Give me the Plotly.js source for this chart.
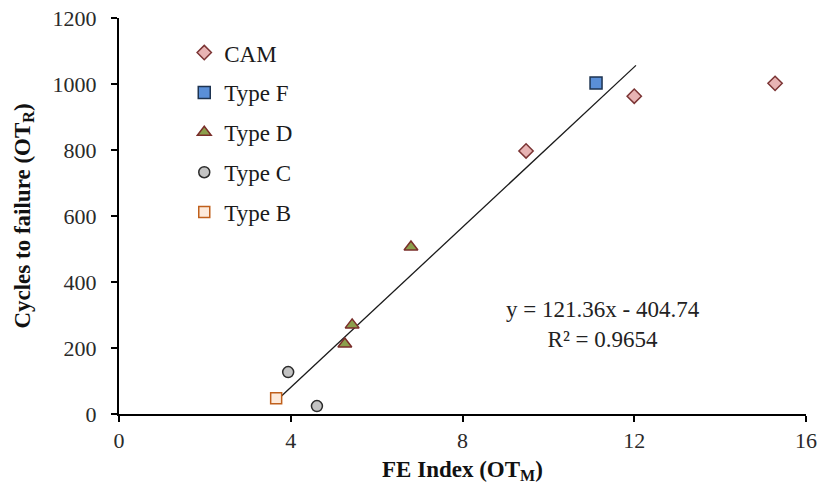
<!DOCTYPE html>
<html>
<head>
<meta charset="utf-8">
<script src="https://cdn.plot.ly/plotly-3.0.1.min.js"></script>
<style>html,body{margin:0;padding:0;background:#fff;}#chart{width:819px;height:487px;}</style>
</head>
<body>
<div id="chart"></div>
<script>
// FE Index (OT_M) vs cycles to failure (OT_R), by mix type
const camX = [9.48, 12.0, 15.28];
const camY = [797, 963, 1002];
const typeFX = [11.11];
const typeFY = [1003];
const typeDX = [6.8, 5.43, 5.26];
const typeDY = [506, 270, 212];
const typeCX = [3.94, 4.61];
const typeCY = [127, 24];
const typeBX = [3.66];
const typeBY = [48];

// linear fit reported on the chart
const slope = 121.36;
const intercept = -404.74;
const r2 = 0.9654;
const fitX = [3.66, 12.04];
const fitY = fitX.map(x => slope * x + intercept);

const serif = "Liberation Serif, Times New Roman, serif";

function pts(name, x, y, symbol, size, fill, edge, group) {
  return {
    type: 'scatter', mode: 'markers', name: name, x: x, y: y,
    legendgroup: group,
    marker: {symbol: symbol, size: size, color: fill, line: {color: edge, width: 1.5}},
    cliponaxis: false
  };
}

const traces = [
  {type: 'scatter', mode: 'lines', x: fitX, y: fitY, showlegend: false,
   line: {color: '#1a1a1a', width: 1.3}, hoverinfo: 'skip'},
  pts('CAM', camX, camY, 'diamond', 11, '#e8b4b4', '#7b3434', 'a'),
  pts('Type F', typeFX, typeFY, 'square', 12, '#5a8fd8', '#1d3350', 'b'),
  pts('Type D', typeDX, typeDY, 'triangle-up', 12, '#8c9f4c', '#7a2e2a', 'c'),
  pts('Type C', typeCX, typeCY, 'circle', 11, '#c3c3c3', '#2b2b2b', 'd'),
  pts('Type B', typeBX, typeBY, 'square', 11, '#fdeadb', '#c0601c', 'e')
];

const layout = {
  width: 819, height: 487,
  margin: {l: 119, r: 13, t: 18, b: 73},
  paper_bgcolor: '#fff', plot_bgcolor: '#fff',
  font: {family: serif, size: 22, color: '#222'},
  showlegend: true,
  legend: {x: 0.095, y: 0.967, xanchor: 'left', yanchor: 'top',
           font: {family: serif, size: 23, color: '#1a1a1a'},
           traceorder: 'grouped', tracegroupgap: 7, itemwidth: 30,
           bgcolor: 'rgba(0,0,0,0)'},
  xaxis: {
    range: [0, 16], tickvals: [0, 4, 8, 12, 16], ticktext: ['0', '4', '8', '12', '16'],
    showgrid: false, zeroline: false, showline: true, linecolor: '#000', linewidth: 2,
    ticks: 'outside', ticklen: 6, tickwidth: 2, tickcolor: '#000',
    tickfont: {family: serif, size: 22, color: '#2a2a2a'},
    title: {text: '<b>FE Index (OT<sub>M</sub>)</b>', font: {family: serif, size: 23, color: '#111'}, standoff: 8}
  },
  yaxis: {
    range: [0, 1200], tickvals: [0, 200, 400, 600, 800, 1000, 1200],
    showgrid: false, zeroline: false, showline: true, linecolor: '#000', linewidth: 2,
    ticks: 'outside', ticklen: 6, tickwidth: 2, tickcolor: '#000',
    ticklabelstandoff: 10,
    tickfont: {family: serif, size: 22, color: '#2a2a2a'},
    title: {text: '<b>Cycles to failure (OT<sub>R</sub>)</b>', font: {family: serif, size: 23, color: '#111'}, standoff: 16}
  },
  annotations: [{
    xref: 'paper', yref: 'paper', x: 0.704, y: 0.227, xanchor: 'center', yanchor: 'middle',
    text: 'y = ' + slope.toFixed(2) + 'x - ' + Math.abs(intercept).toFixed(2) + '<br>R² = ' + r2,
    showarrow: false, align: 'center',
    font: {family: serif, size: 23, color: '#222'}
  }]
};

Plotly.newPlot('chart', traces, layout, {displayModeBar: false, staticPlot: true});
</script>
</body>
</html>
